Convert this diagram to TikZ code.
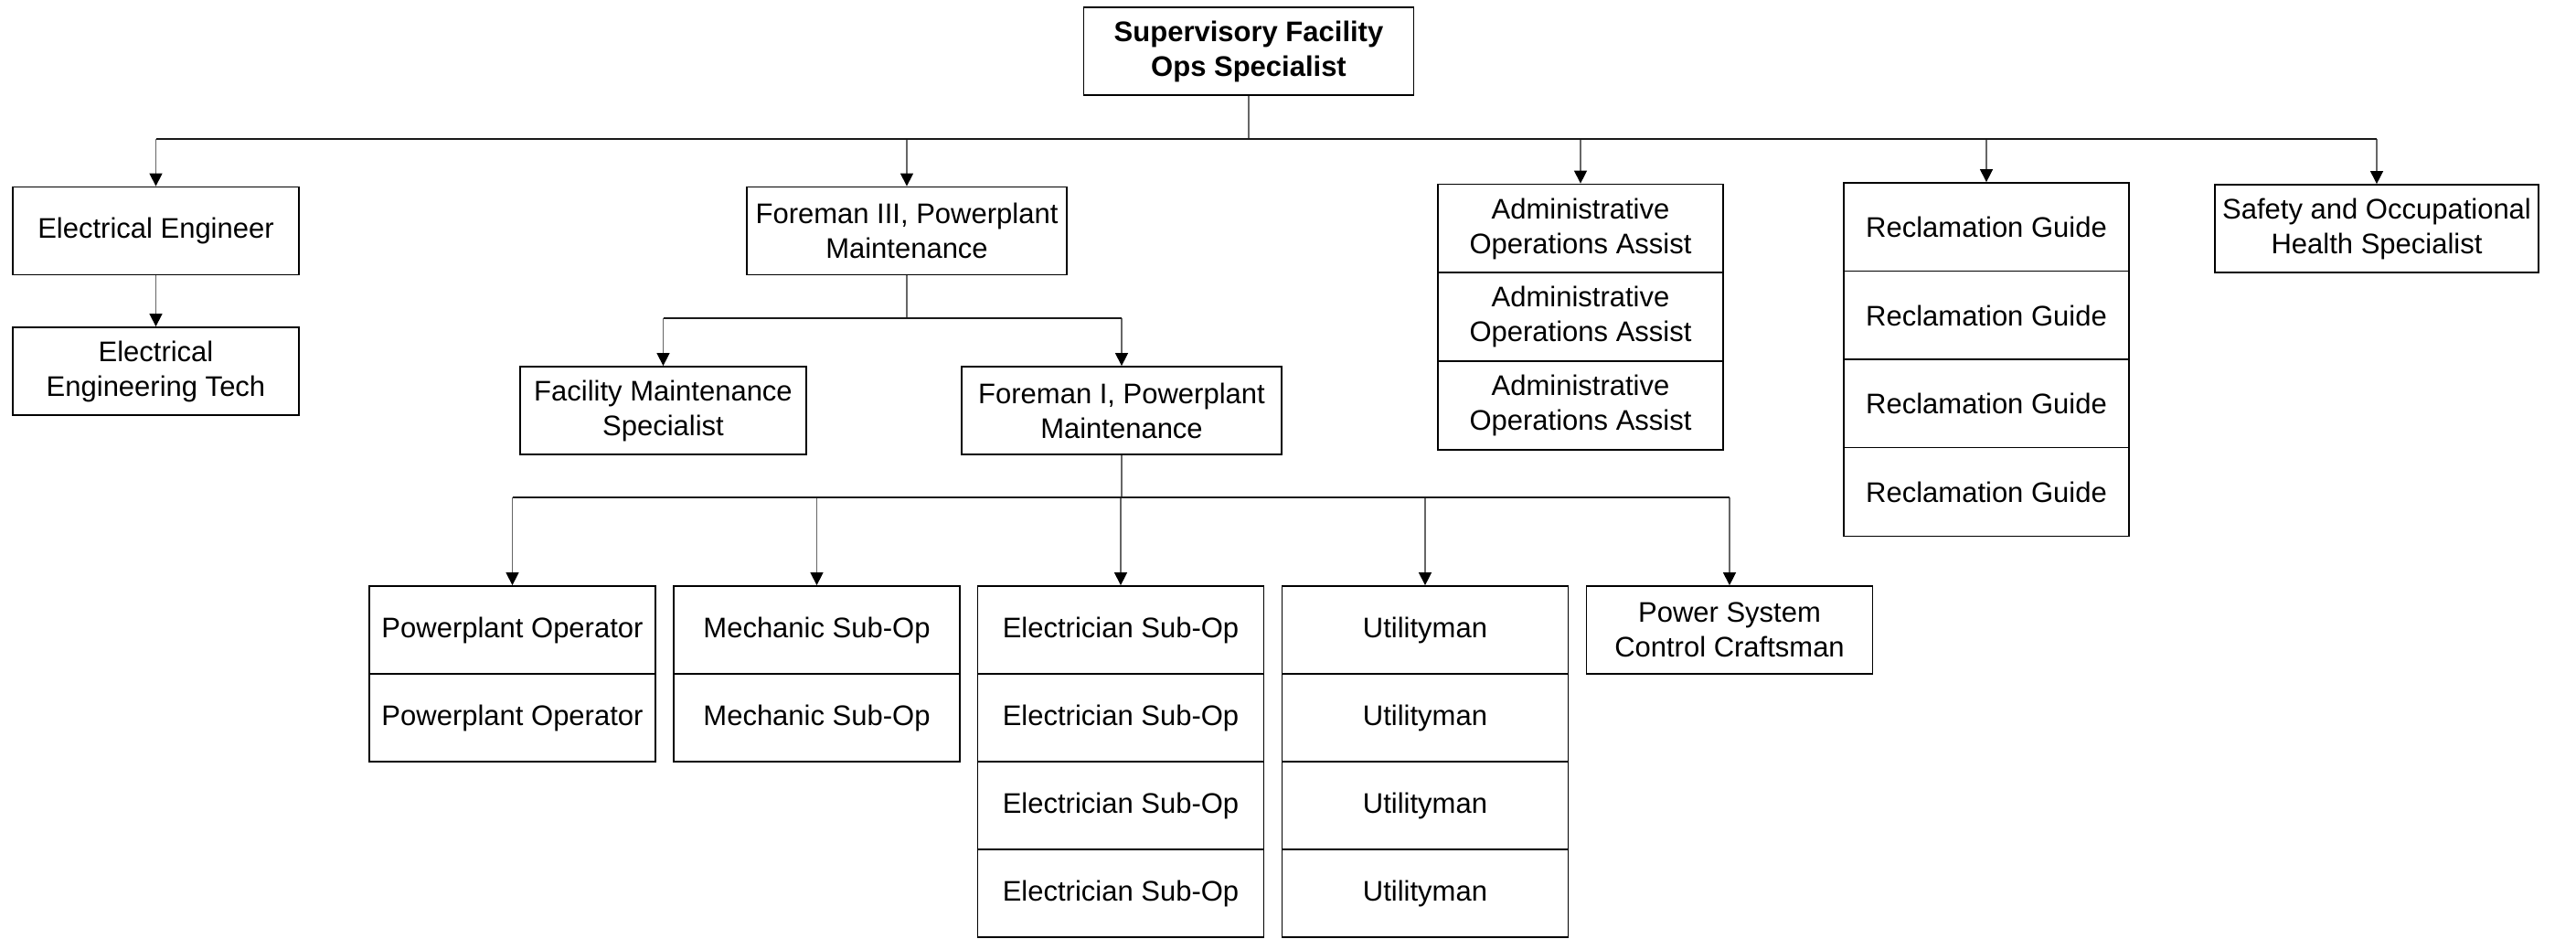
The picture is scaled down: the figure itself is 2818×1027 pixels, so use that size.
\documentclass[tikz,border=0pt]{standalone}
\usepackage{fontspec}
\setmainfont{Liberation Sans}
\usetikzlibrary{arrows.meta}
\begin{document}
\begin{tikzpicture}[x=1pt,y=-1pt,
  box/.style={draw=black, line width=1.8pt, fill=white, inner sep=0pt, align=center,
    minimum height=96pt, minimum width=313pt, font=\fontsize{31}{38}\selectfont},
  stackbox/.style={box, minimum height=97pt},
  link/.style={draw=black!60, line width=1.4pt},
  busline/.style={draw=black!90, line width=1.4pt},
  arr/.style={link, -{Triangle[length=14pt,width=14pt,color=black]}}]
\useasboundingbox (0,0) rectangle (2818,1027);

% top of the chart
\node[box, minimum width=361pt, font=\fontsize{31}{38}\selectfont\bfseries] (sup) at (1366,56)
  {Supervisory Facility\\Ops Specialist};

% first level
\node[box] (ee) at (170.5,252.5) {Electrical Engineer};
\node[box] (eet) at (170.5,406) {Electrical\\Engineering Tech};
\node[box, minimum width=350pt] (fm3) at (992,252.5) {Foreman III, Powerplant\\Maintenance};
\node[stackbox, minimum width=312pt] (adm1) at (1729,250) {Administrative\\Operations Assist};
\node[stackbox, minimum width=312pt] (adm2) at (1729,346.5) {Administrative\\Operations Assist};
\node[stackbox, minimum width=312pt] (adm3) at (1729,443.5) {Administrative\\Operations Assist};
\node[stackbox, minimum width=312pt] (rg1) at (2173,248.5) {Reclamation Guide};
\node[stackbox, minimum width=312pt] (rg2) at (2173,345) {Reclamation Guide};
\node[stackbox, minimum width=312pt] (rg3) at (2173,441.5) {Reclamation Guide};
\node[stackbox, minimum width=312pt] (rg4) at (2173,538) {Reclamation Guide};
\node[box, minimum width=354pt] (soh) at (2600,250) {Safety and Occupational\\Health Specialist};

% second level
\node[box] (fms) at (725.5,449) {Facility Maintenance\\Specialist};
\node[box, minimum width=350pt] (fm1) at (1227,449) {Foreman I, Powerplant\\Maintenance};

% third level
\node[box] (po1) at (560.5,689) {Powerplant Operator};
\node[box] (po2) at (560.5,785) {Powerplant Operator};
\node[box] (ms1) at (893.5,689) {Mechanic Sub-Op};
\node[box] (ms2) at (893.5,785) {Mechanic Sub-Op};
\node[box] (es1) at (1226,689) {Electrician Sub-Op};
\node[box] (es2) at (1226,785) {Electrician Sub-Op};
\node[box] (es3) at (1226,881) {Electrician Sub-Op};
\node[box] (es4) at (1226,977) {Electrician Sub-Op};
\node[box] (ut1) at (1559,689) {Utilityman};
\node[box] (ut2) at (1559,785) {Utilityman};
\node[box] (ut3) at (1559,881) {Utilityman};
\node[box] (ut4) at (1559,977) {Utilityman};
\node[box] (psc) at (1892,689) {Power System\\Control Craftsman};

% bus lines
\coordinate (bus0) at (1366,152);
\coordinate (bus1) at (992,348);
\coordinate (bus2) at (1227,544);

% connectors from the supervisor
\draw[link] (sup.south) -- (bus0);
\foreach \n in {ee,fm3,adm1,rg1,soh}
  \draw[arr] (\n |- bus0) -- (\n.north);
\draw[busline] (ee |- bus0) -- (soh |- bus0);
\draw[arr] (ee.south) -- (eet.north);

% connectors from Foreman III
\draw[link] (fm3.south) -- (bus1);
\foreach \n in {fms,fm1}
  \draw[arr] (\n |- bus1) -- (\n.north);
\draw[busline] (fms |- bus1) -- (fm1 |- bus1);

% connectors from Foreman I
\draw[link] (fm1.south) -- (bus2);
\foreach \n in {po1,ms1,es1,ut1,psc}
  \draw[arr] (\n |- bus2) -- (\n.north);
\draw[busline] (po1 |- bus2) -- (psc |- bus2);
\end{tikzpicture}
\end{document}
